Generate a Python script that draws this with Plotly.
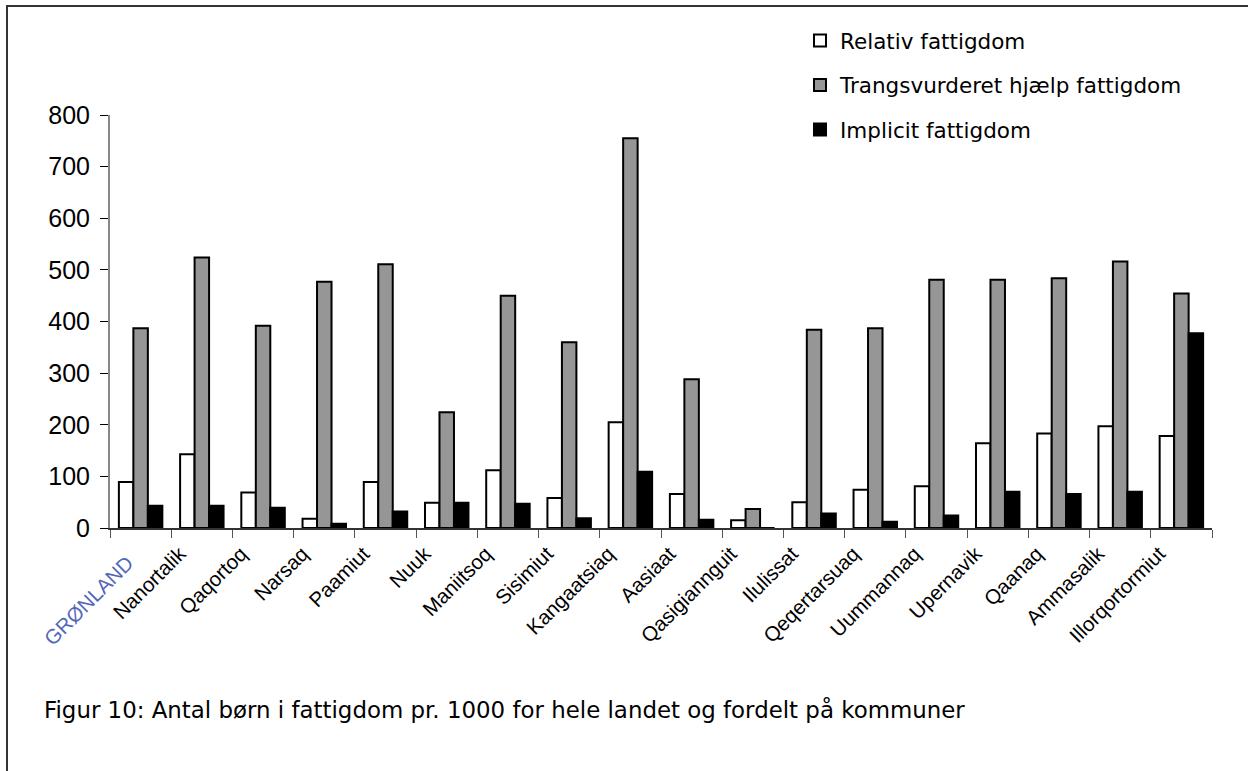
import plotly.graph_objects as go

categories = ["GRØNLAND", "Nanortalik", "Qaqortoq", "Narsaq", "Paamiut", "Nuuk", "Maniitsoq",
              "Sisimiut", "Kangaatsiaq", "Aasiaat", "Qasigiannguit", "Ilulissat", "Qeqertarsuaq",
              "Uummannaq", "Upernavik", "Qaanaq", "Ammasalik", "Illorqortormiut"]
relativ = [89, 143, 69, 18, 89, 49, 112, 58, 205, 66, 15, 50, 74, 81, 164, 183, 197, 178]
trangsvurderet = [387, 524, 392, 477, 511, 224, 450, 360, 755, 288, 37, 384, 387, 481, 481, 484, 516, 454]
implicit = [43, 43, 39, 8, 32, 49, 47, 19, 109, 16, 0, 28, 12, 24, 70, 66, 70, 377]
series_names = ["Relativ fattigdom", "Trangsvurderet hjælp fattigdom", "Implicit fattigdom"]
y_ticks = [0, 100, 200, 300, 400, 500, 600, 700, 800]
caption = "Figur 10: Antal børn i fattigdom pr. 1000 for hele landet og fordelt på kommuner"

W, H = 1248, 771
L, R, T, B = 110, 36, 115, 243
pw, ph = W - L - R, H - T - B

def px_x(p):
    return (p - L) / pw

def px_y(p):
    return (H - B - p) / ph

fig = go.Figure()
fills = ["#ffffff", "#969696", "#000000"]
for i, (name, vals) in enumerate(zip(series_names, [relativ, trangsvurderet, implicit])):
    fig.add_trace(go.Bar(
        x=categories, y=vals, name=name, legendgroup=f"g{i}",
        marker=dict(color=fills[i], line=dict(color="#000000", width=2)),
    ))

# first label (national total) is drawn separately in its own colour/position
ticktext = [""] + categories[1:]

fig.update_layout(
    width=W, height=H,
    margin=dict(l=L, r=R, t=T, b=B, autoexpand=False),
    paper_bgcolor="white", plot_bgcolor="white",
    barmode="group", bargap=0.29, bargroupgap=0,
    showlegend=True,
    legend=dict(
        x=px_x(800), y=px_y(20), xanchor="left", yanchor="top",
        font=dict(family="DejaVu Sans", size=21.5, color="#000000"),
        bgcolor="rgba(0,0,0,0)", tracegroupgap=13.5,
    ),
    xaxis=dict(
        type="category", tickmode="array", tickvals=categories, ticktext=ticktext,
        tickangle=-45, tickson="boundaries", ticks="outside", ticklen=8,
        tickcolor="#555555", showline=True, linecolor="#333333", linewidth=1.5,
        showgrid=False, zeroline=False, ticklabelshift=-22, ticklabelstandoff=4,
        tickfont=dict(family="Liberation Sans, Arial", size=20.5, color="#000000"),
    ),
    yaxis=dict(
        range=[0, 800], tickmode="array", tickvals=y_ticks,
        ticks="outside", ticklen=8, tickcolor="#000000",
        showline=True, linecolor="#888888", linewidth=2,
        showgrid=False, zeroline=False, ticklabelstandoff=5,
        tickfont=dict(family="Liberation Sans, Arial", size=25, color="#000000"),
    ),
    annotations=[
        dict(
            text=caption, xref="paper", yref="paper", x=px_x(42), y=px_y(709),
            xanchor="left", yanchor="middle", showarrow=False,
            font=dict(family="DejaVu Sans", size=22.9, color="#000000"),
        ),
        dict(
            text=categories[0], xref="paper", yref="paper", x=px_x(88), y=px_y(600),
            xanchor="center", yanchor="middle", showarrow=False, textangle=-45,
            font=dict(family="Liberation Sans, Arial", size=20.5, color="#5468b8"),
        ),
    ],
    shapes=[dict(
        type="rect", xref="paper", yref="paper",
        x0=px_x(7), x1=px_x(1256), y0=px_y(790), y1=px_y(6),
        line=dict(color="#333333", width=2), fillcolor="rgba(0,0,0,0)",
    )],
)

fig.write_html("out.html", config={"displayModeBar": False},
               post_script="document.body.style.margin='0';")
